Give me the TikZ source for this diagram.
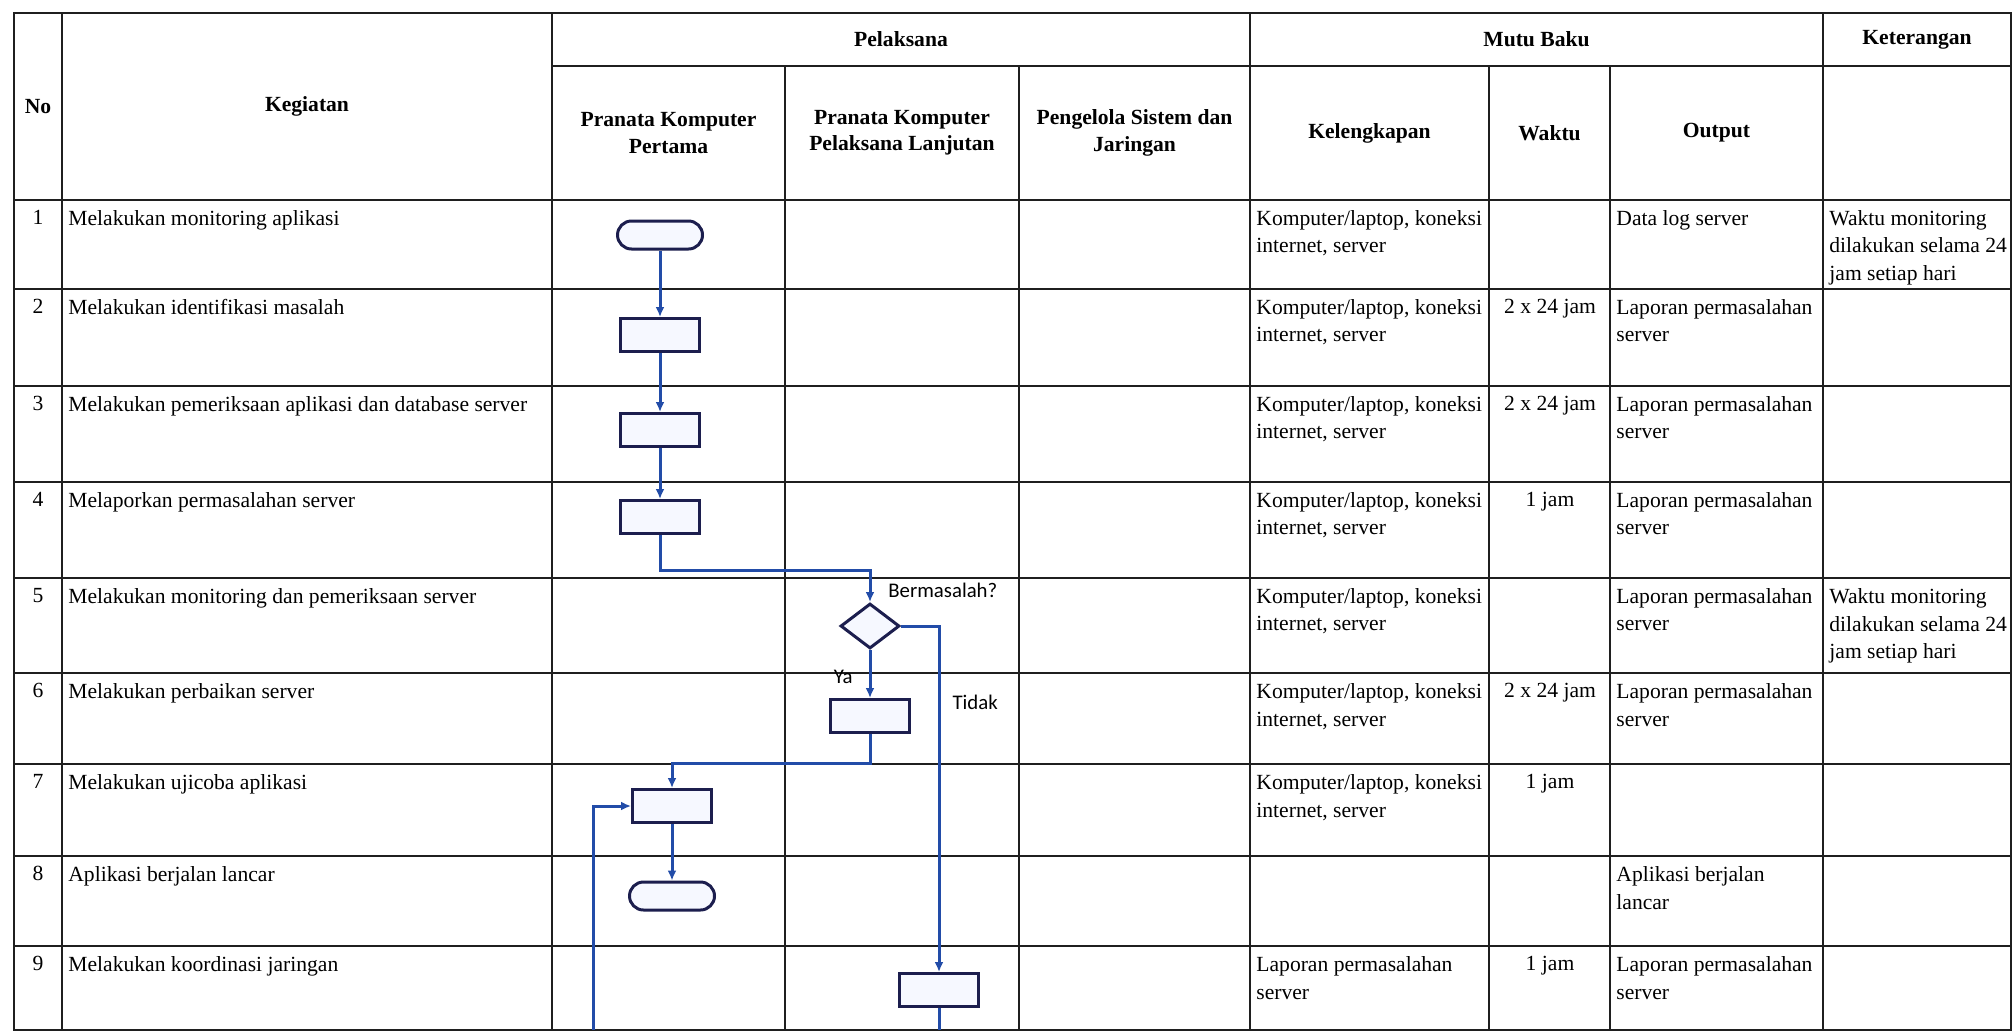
\documentclass[tikz,border=0pt]{standalone}
\usepackage{fontspec}
\setmainfont{Liberation Serif}
\newfontfamily\flowfont{Carlito}
\usepackage{tikz}
\definecolor{flownavy}{RGB}{28,30,78}
\definecolor{flowblue}{RGB}{34,76,168}
\definecolor{flowfill}{RGB}{246,248,255}
\newcommand{\kompnet}{Komputer/laptop, koneksi\\internet, server}
\newcommand{\lapserver}{Laporan permasalahan\\server}
\newcommand{\waktumon}{Waktu monitoring\\dilakukan selama 24\\jam setiap hari}
\tikzset{
  cell_font/.style = {font=\fontsize{10.8}{13.8}\selectfont},
  head_font/.style = {font=\fontsize{10.8}{13.2}\selectfont\bfseries},
  flow_font/.style = {font=\fontsize{10.4}{12}\selectfont\flowfont},
  grid_line/.style = {line width=1.4pt, black!88},
  flow_border/.style = {draw=flownavy, line width=1.5pt, fill=flowfill}
}
\tikzset{
  head/.style = {head_font, align=center, inner sep=0},
  cell/.style = {cell_font, align=left, anchor=north west, inner xsep=3pt, inner ysep=5pt},
  cell_mid/.style = {cell_font, align=center, anchor=north, inner xsep=0, inner ysep=5pt},
  terminal/.style = {flow_border, rounded corners=7pt, minimum width=42.5pt, minimum height=14pt, inner sep=0},
  process/.style = {flow_border, minimum width=39.5pt, minimum height=16.5pt, inner sep=0},
  decision/.style = {flow_border, diamond, minimum width=29.5pt, minimum height=22.5pt, inner sep=0},
  flow/.style = {draw=flowblue, line width=1.5pt, -{Latex[length=5pt, width=4.5pt]}},
  flow_line/.style = {draw=flowblue, line width=1.5pt},
  flow_label/.style = {flow_font, inner sep=2pt}
}
\usetikzlibrary{shapes.geometric, arrows.meta, calc, positioning}

\begin{document}
\begin{tikzpicture}[x=0.5pt, y=-0.5pt, node distance=0]
        \path[fill=white, use as bounding box] (0,0) rectangle (2013,1034);

        % Column edges
        \coordinate (c_no) at (14,0);
        \coordinate (c_keg) at (62,0);
        \coordinate (c_pk1) at (552,0);
        \coordinate (c_pk2) at (785,0);
        \coordinate (c_psj) at (1019,0);
        \coordinate (c_kel) at (1250,0);
        \coordinate (c_wkt) at (1489,0);
        \coordinate (c_out) at (1610,0);
        \coordinate (c_ket) at (1823,0);
        \coordinate (c_end) at (2011,0);
        \coordinate (m_no) at (38,0);
        \coordinate (m_wkt) at (1550,0);

        % Row edges
        \coordinate (r_top) at (0,13);
        \coordinate (r_sub) at (0,66);
        \coordinate (r_0) at (0,200);
        \coordinate (r_1) at (0,289);
        \coordinate (r_2) at (0,386);
        \coordinate (r_3) at (0,482);
        \coordinate (r_4) at (0,578);
        \coordinate (r_5) at (0,673);
        \coordinate (r_6) at (0,764);
        \coordinate (r_7) at (0,856);
        \coordinate (r_8) at (0,946);
        \coordinate (r_9) at (0,1030);

        % Table lines
        \draw[grid_line] (c_no |- r_top) rectangle (c_end |- r_9);
        \draw[grid_line]
            (c_pk1 |- r_sub)--(c_end |- r_sub)
            (c_no |- r_0)--(c_end |- r_0)
            (c_no |- r_1)--(c_end |- r_1)
            (c_no |- r_2)--(c_end |- r_2)
            (c_no |- r_3)--(c_end |- r_3)
            (c_no |- r_4)--(c_end |- r_4)
            (c_no |- r_5)--(c_end |- r_5)
            (c_no |- r_6)--(c_end |- r_6)
            (c_no |- r_7)--(c_end |- r_7)
            (c_no |- r_8)--(c_end |- r_8);
        \draw[grid_line]
            (c_keg |- r_top)--(c_keg |- r_9)
            (c_pk1 |- r_top)--(c_pk1 |- r_9)
            (c_kel |- r_top)--(c_kel |- r_9)
            (c_ket |- r_top)--(c_ket |- r_9)
            (c_pk2 |- r_sub)--(c_pk2 |- r_9)
            (c_psj |- r_sub)--(c_psj |- r_9)
            (c_wkt |- r_sub)--(c_wkt |- r_9)
            (c_out |- r_sub)--(c_out |- r_9);

        % Headers
        \node[head] (h_no) at ($(c_no |- r_top)!0.5!(c_keg |- r_0)$) {No};
        \node[head] (h_keg) at ($(c_keg |- r_top)!0.5!(c_pk1 |- r_0)$) {Kegiatan};
        \node[head] (h_pel) at ($(c_pk1 |- r_top)!0.5!(c_kel |- r_sub)$) {Pelaksana};
        \node[head] (h_mutu) at ($(c_kel |- r_top)!0.5!(c_ket |- r_sub)$) {Mutu Baku};
        \node[head] (h_ket) at ($(c_ket |- r_top)!0.5!(c_end |- r_sub)$) {Keterangan};
        \node[head] (h_pk1) at ($(c_pk1 |- r_sub)!0.5!(c_pk2 |- r_0)$) {Pranata Komputer\\Pertama};
        \node[head] (h_pk2) at ($(c_pk2 |- r_sub)!0.5!(c_psj |- r_0)$) {Pranata Komputer\\Pelaksana Lanjutan};
        \node[head] (h_psj) at ($(c_psj |- r_sub)!0.5!(c_kel |- r_0)$) {Pengelola Sistem dan\\Jaringan};
        \node[head] (h_kel) at ($(c_kel |- r_sub)!0.5!(c_wkt |- r_0)$) {Kelengkapan};
        \node[head] (h_wkt) at ($(c_wkt |- r_sub)!0.5!(c_out |- r_0)$) {Waktu};
        \node[head] (h_out) at ($(c_out |- r_sub)!0.5!(c_ket |- r_0)$) {Output};

        % Row 1
        \node[cell_mid] (no_1) at (m_no |- r_0) {1};
        \node[cell] (keg_1) at (c_keg |- r_0) {Melakukan monitoring aplikasi};
        \node[cell] (kel_1) at (c_kel |- r_0) {\kompnet};
        \node[cell] (out_1) at (c_out |- r_0) {Data log server};
        \node[cell] (ket_1) at (c_ket |- r_0) {\waktumon};

        % Row 2
        \node[cell_mid] (no_2) at (m_no |- r_1) {2};
        \node[cell] (keg_2) at (c_keg |- r_1) {Melakukan identifikasi masalah};
        \node[cell] (kel_2) at (c_kel |- r_1) {\kompnet};
        \node[cell_mid] (wkt_2) at (m_wkt |- r_1) {2 x 24 jam};
        \node[cell] (out_2) at (c_out |- r_1) {\lapserver};

        % Row 3
        \node[cell_mid] (no_3) at (m_no |- r_2) {3};
        \node[cell] (keg_3) at (c_keg |- r_2) {Melakukan pemeriksaan aplikasi dan database server};
        \node[cell] (kel_3) at (c_kel |- r_2) {\kompnet};
        \node[cell_mid] (wkt_3) at (m_wkt |- r_2) {2 x 24 jam};
        \node[cell] (out_3) at (c_out |- r_2) {\lapserver};

        % Row 4
        \node[cell_mid] (no_4) at (m_no |- r_3) {4};
        \node[cell] (keg_4) at (c_keg |- r_3) {Melaporkan permasalahan server};
        \node[cell] (kel_4) at (c_kel |- r_3) {\kompnet};
        \node[cell_mid] (wkt_4) at (m_wkt |- r_3) {1 jam};
        \node[cell] (out_4) at (c_out |- r_3) {\lapserver};

        % Row 5
        \node[cell_mid] (no_5) at (m_no |- r_4) {5};
        \node[cell] (keg_5) at (c_keg |- r_4) {Melakukan monitoring dan pemeriksaan server};
        \node[cell] (kel_5) at (c_kel |- r_4) {\kompnet};
        \node[cell] (out_5) at (c_out |- r_4) {\lapserver};
        \node[cell] (ket_5) at (c_ket |- r_4) {\waktumon};

        % Row 6
        \node[cell_mid] (no_6) at (m_no |- r_5) {6};
        \node[cell] (keg_6) at (c_keg |- r_5) {Melakukan perbaikan server};
        \node[cell] (kel_6) at (c_kel |- r_5) {\kompnet};
        \node[cell_mid] (wkt_6) at (m_wkt |- r_5) {2 x 24 jam};
        \node[cell] (out_6) at (c_out |- r_5) {\lapserver};

        % Row 7
        \node[cell_mid] (no_7) at (m_no |- r_6) {7};
        \node[cell] (keg_7) at (c_keg |- r_6) {Melakukan ujicoba aplikasi};
        \node[cell] (kel_7) at (c_kel |- r_6) {\kompnet};
        \node[cell_mid] (wkt_7) at (m_wkt |- r_6) {1 jam};

        % Row 8
        \node[cell_mid] (no_8) at (m_no |- r_7) {8};
        \node[cell] (keg_8) at (c_keg |- r_7) {Aplikasi berjalan lancar};
        \node[cell] (out_8) at (c_out |- r_7) {Aplikasi berjalan\\lancar};

        % Row 9
        \node[cell_mid] (no_9) at (m_no |- r_8) {9};
        \node[cell] (keg_9) at (c_keg |- r_8) {Melakukan koordinasi jaringan};
        \node[cell] (kel_9) at (c_kel |- r_8) {\lapserver};
        \node[cell_mid] (wkt_9) at (m_wkt |- r_8) {1 jam};
        \node[cell] (out_9) at (c_out |- r_8) {\lapserver};

        % Flow shapes
        \node[terminal] (term_mulai) at (660,235) {};
        \node[process] (box_identifikasi) at (660,335) {};
        \node[process] (box_periksa) at (660,430) {};
        \node[process] (box_lapor) at (660,517) {};
        \node[decision] (dec_masalah) at (870,626) {};
        \node[flow_label, anchor=south west, xshift=7pt] (lbl_masalah) at (dec_masalah.north) {Bermasalah?};
        \node[process] (box_perbaikan) at (870,716) {};
        \node[process] (box_uji) at (672,806) {};
        \node[terminal] (term_selesai) at (672,896) {};
        \node[process] (box_koord) at (939,990) {};
        \coordinate (uji_balik) at (593,1030);
        \coordinate (koord_keluar) at (939,1030);

        % Arrows and lines
        \draw[flow] (term_mulai)--(box_identifikasi);
        \draw[flow] (box_identifikasi)--(box_periksa);
        \draw[flow] (box_periksa)--(box_lapor);
        \draw[flow] (box_lapor.south)--++(0,35) -| (dec_masalah.north);
        \draw[flow] (dec_masalah)-- node[flow_label, left=6pt, pos=0.55] (lbl_ya) {Ya} (box_perbaikan);
        \draw[flow] (dec_masalah.east) -| node[flow_label, right=4pt, pos=0.61] (lbl_tidak) {Tidak} (box_koord.north);
        \draw[flow] (box_perbaikan.south)--++(0,29) -| (box_uji.north);
        \draw[flow] (box_uji)--(term_selesai);
        \draw[flow] (uji_balik) |- (box_uji.west);
        \draw[flow_line] (box_koord)--(koord_keluar);
    \end{tikzpicture}
\end{document}
